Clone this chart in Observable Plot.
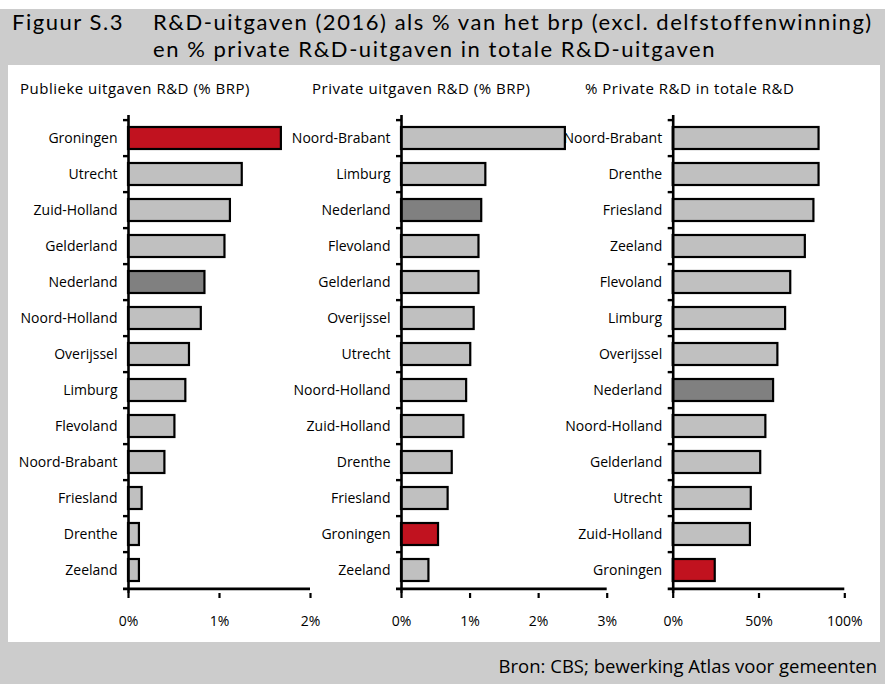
<!DOCTYPE html>
<html>
<head>
<meta charset="utf-8">
<script src="https://cdn.jsdelivr.net/npm/d3@7"></script>
<script src="https://cdn.jsdelivr.net/npm/@observablehq/plot@0.6"></script>
<style>
  body { margin: 0; background: #fff; font-family: "Open Sans", sans-serif; }
  #fig { position: relative; width: 885px; height: 684px; overflow: hidden; }
  #band { position: absolute; left: 0; top: 9px; width: 885px; height: 675px; background: #cccccc; }
  #panel { position: absolute; left: 8px; top: 65px; width: 872px; height: 577px; background: #fff; }
  .t { position: absolute; white-space: nowrap; color: #000; }
  .title { font-family: Lato, "Open Sans", sans-serif; font-size: 22px; line-height: 1.2; }
  .ptitle { font-size: 15px; line-height: 18px; letter-spacing: 0.5px; top: 79px; }
  .chart { position: absolute; top: 100px; }
  .chart svg { overflow: visible; background: transparent; }
  .chart svg g[aria-label="x-axis tick"] { stroke-width: 2.2px; }
</style>
</head>
<body>
<div id="fig">
  <div id="band"></div>
  <div id="panel"></div>
  <div id="t0" class="t title" style="left:12px; top:9.4px;">Figuur S.3</div>
  <div id="t1" class="t title" style="left:153px; top:9.4px;">R&amp;D-uitgaven (2016) als % van het brp (excl. delfstoffenwinning)</div>
  <div id="t2" class="t title" style="left:153px; top:35.9px;">en % private R&amp;D-uitgaven in totale R&amp;D-uitgaven</div>
  <div class="t ptitle" style="left:20px;">Publieke uitgaven R&amp;D (% BRP)</div>
  <div class="t ptitle" style="left:312px;">Private uitgaven R&amp;D (% BRP)</div>
  <div class="t ptitle" style="left:585px;">% Private R&amp;D in totale R&amp;D</div>
  <div class="t" style="right:8px; top:655px; font-size:18.5px; line-height:22px;">Bron: CBS; bewerking Atlas voor gemeenten</div>
  <div id="c1" class="chart" style="left:0px;"></div>
  <div id="c2" class="chart" style="left:280px;"></div>
  <div id="c3" class="chart" style="left:560px;"></div>
</div>
<script>
// Publieke uitgaven R&D (% BRP)
const publiekCats = ["Groningen","Utrecht","Zuid-Holland","Gelderland","Nederland","Noord-Holland","Overijssel","Limburg","Flevoland","Noord-Brabant","Friesland","Drenthe","Zeeland"];
const publiekVals = [1.68,1.25,1.12,1.06,0.84,0.80,0.67,0.63,0.51,0.40,0.15,0.12,0.12];

// Private uitgaven R&D (% BRP)
const privateCats = ["Noord-Brabant","Limburg","Nederland","Flevoland","Gelderland","Overijssel","Utrecht","Noord-Holland","Zuid-Holland","Drenthe","Friesland","Groningen","Zeeland"];
const privateVals = [2.39,1.23,1.17,1.13,1.13,1.06,1.01,0.95,0.91,0.74,0.68,0.54,0.40];

// % Private R&D in totale R&D
const aandeelCats = ["Noord-Brabant","Drenthe","Friesland","Zeeland","Flevoland","Limburg","Overijssel","Nederland","Noord-Holland","Gelderland","Utrecht","Zuid-Holland","Groningen"];
const aandeelVals = [85,85,82,77,68.5,65.5,61,58.5,54,51,45.5,45,24.5];

// Axis ticks
const ticks1 = [0,1,2];
const ticks2 = [0,1,2,3];
const ticks3 = [0,50,100];

const LIGHT = "#c0c0c0", DARK = "#808080", RED = "#c1121f";
const colorFor = n => n === "Groningen" ? RED : n === "Nederland" ? DARK : LIGHT;

// Fit title letter-spacing so line 1 spans x = 153..872 as in the reference
(function fitTitle() {
  const t1 = document.getElementById("t1");
  const w = t1.getBoundingClientRect().width;
  const n = t1.textContent.length;
  const ls = (719 - w) / n;
  for (const id of ["t0", "t1", "t2"]) document.getElementById(id).style.letterSpacing = ls + "px";
})();

const H = 560, MT = 15, MB = 560 - 493; // y range 115..593 in page coordinates
const step = (H - MT - MB) / 13;

function panel(el, cats, vals, ticks, width, marginLeft, marginRight) {
  const data = cats.map((c, i) => ({name: c, value: vals[i]}));
  const last = cats[cats.length - 1];
  const chart = Plot.plot({
    width, height: H, marginTop: MT, marginBottom: MB, marginLeft, marginRight,
    style: {fontFamily: "Open Sans", fontSize: "14px", background: "transparent", overflow: "visible"},
    x: {domain: [ticks[0], ticks[ticks.length - 1]], ticks, tickFormat: d => d + "%", tickSize: 5, tickPadding: 18, label: null},
    y: {domain: cats, padding: 0, tickSize: 0, tickPadding: 11, label: null},
    color: {domain: cats, range: cats.map(colorFor)},
    marks: [
      Plot.barX(data, {x: "value", y: "name", fill: "name", stroke: "#000", strokeWidth: 2.2, insetTop: 7, insetBottom: 7}),
      Plot.ruleX([0], {stroke: "#000", strokeWidth: 2.6}),
      Plot.ruleY(cats, {y: d => d, dy: -step / 2, x1: ticks[0], x2: ticks[0], insetLeft: -5, stroke: "#000", strokeWidth: 2.4}),
      Plot.ruleY([last], {y: d => d, dy: step / 2, x1: ticks[0], x2: ticks[ticks.length - 1], insetLeft: -5, stroke: "#000", strokeWidth: 2.6})
    ]
  });
  document.getElementById(el).appendChild(chart);
}

panel("c1", publiekCats, publiekVals, ticks1, 330, 128, 20);
panel("c2", privateCats, privateVals, ticks2, 340, 121, 13.3);
panel("c3", aandeelCats, aandeelVals, ticks3, 315, 112.7, 30.7);
</script>
</body>
</html>
